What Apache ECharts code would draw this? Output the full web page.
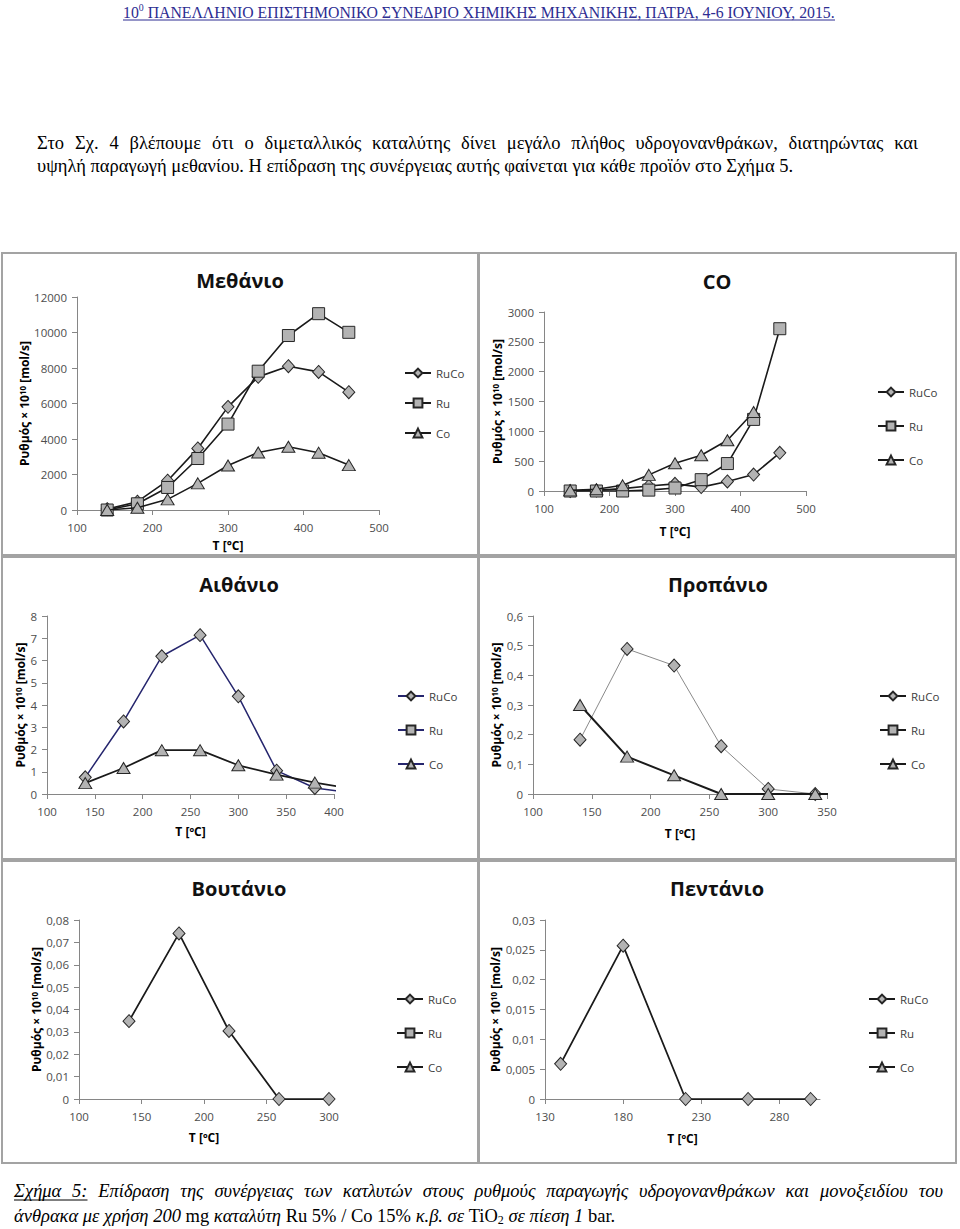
<!DOCTYPE html>
<html>
<head>
<meta charset="utf-8">
<script src="https://cdn.jsdelivr.net/npm/echarts@6/dist/echarts.min.js"></script>
<style>
html,body{margin:0;padding:0;background:#fff;}
#main{width:960px;height:1229px;}
</style>
</head>
<body>
<div id="main"></div>
<script>
// ================= DATA =================
const seriesNames = ['RuCo', 'Ru', 'Co'];
const chartTitles = ['Μεθάνιο', 'CO', 'Αιθάνιο', 'Προπάνιο', 'Βουτάνιο', 'Πεντάνιο'];
const xAxisNames = ['T [°C]', 'T [°C]', 'T [ºC]', 'T [ºC]', 'T [ºC]', 'T [ºC]'];

// Methane
const methaneT    = [140, 180, 220, 260, 300, 340, 380, 420, 460];
const methaneRuCo = [50, 470, 1650, 3470, 5810, 7500, 8100, 7780, 6640];
const methaneRu   = [0, 350, 1270, 2900, 4840, 7820, 9830, 11060, 10010];
const methaneCo   = [0, 130, 600, 1500, 2510, 3240, 3560, 3230, 2530];

// CO
const coT     = [140, 180, 220, 260, 300, 340, 380, 420, 460];
const coRuCo  = [0, 10, 40, 85, 120, 65, 160, 275, 640];
const coRu    = [0, 0, 0, 15, 50, 190, 460, 1200, 2720];
const coCoT   = [140, 180, 220, 260, 300, 340, 380, 420];
const coCo    = [10, 30, 95, 270, 465, 600, 850, 1325];

// Ethane
const ethaneT    = [140, 180, 220, 260, 300, 340, 380, 420];
const ethaneRuCo = [0.75, 3.26, 6.19, 7.14, 4.39, 1.05, 0.27, 0.05];
const ethaneCo   = [0.49, 1.17, 1.97, 1.97, 1.29, 0.87, 0.51, 0.23];

// Propane
const propaneT    = [140, 180, 220, 260, 300, 340];
const propaneRuCo = [0.183, 0.489, 0.433, 0.161, 0.017, 0];
const propaneCoT  = [140, 180, 220, 260, 300, 340, 380];
const propaneCo   = [0.30, 0.126, 0.063, 0, 0, 0, 0];

// Butane
const butaneT    = [140, 180, 220, 260, 300];
const butaneRuCo = [0.0348, 0.074, 0.0304, 0, 0];

// Pentane
const pentaneT    = [140, 180, 220, 260, 300];
const pentaneRuCo = [0.0059, 0.0257, 0, 0, 0];

// Axis ranges / tick steps
const xMins      = [100, 100, 100, 100, 100, 130];
const xMaxs      = [500, 500, 400, 350, 300, 306];
const xSteps     = [100, 100, 50, 50, 50, 50];
const yMaxs      = [12000, 3000, 8, 0.6, 0.08, 0.03];
const ySteps     = [2000, 500, 1, 0.1, 0.01, 0.005];

// Page texts
const headerText = ' ΠΑΝΕΛΛΗΝΙΟ ΕΠΙΣΤΗΜΟΝΙΚΟ ΣΥΝΕΔΡΙΟ ΧΗΜΙΚΗΣ ΜΗΧΑΝΙΚΗΣ, ΠΑΤΡΑ, 4-6 ΙΟΥΝΙΟΥ, 2015.';
const paraLine1 = 'Στο Σχ. 4 βλέπουμε ότι ο διμεταλλικός καταλύτης δίνει μεγάλο πλήθος υδρογονανθράκων, διατηρώντας και';
const paraLine2 = 'υψηλή παραγωγή μεθανίου. Η επίδραση της συνέργειας αυτής φαίνεται για κάθε προϊόν στο Σχήμα 5.';
const capLine1Label = 'Σχήμα 5:';
const capLine1Rest = 'Επίδραση της συνέργειας των κατλυτών στους ρυθμούς παραγωγής υδρογονανθράκων και μονοξειδίου του';

// ================= SERIES ASSEMBLY =================
function pairs(xs, ys) { return xs.map((x, i) => [x, ys[i]]); }
const chartSeriesData = [
  [pairs(methaneT, methaneRuCo), pairs(methaneT, methaneRu), pairs(methaneT, methaneCo)],
  [pairs(coT, coRuCo), pairs(coT, coRu), pairs(coCoT, coCo)],
  [pairs(ethaneT, ethaneRuCo), [], pairs(ethaneT, ethaneCo)],
  [pairs(propaneT, propaneRuCo), [], pairs(propaneCoT, propaneCo)],
  [pairs(butaneT, butaneRuCo), [], []],
  [pairs(pentaneT, pentaneRuCo), [], []]
];

// ================= LAYOUT & STYLE =================
const CF = "'Open Sans', 'Noto Sans', 'DejaVu Sans', sans-serif";
const SERIF = "'Liberation Serif', 'DejaVu Serif', serif";

const layouts = [
  {grid: {left: 77, top: 297, width: 302, height: 213}, tx: 240, ty: 280, lx: 404, ly: 366, lg: 16, yGap: 45, xGap: 29},
  {grid: {left: 544, top: 312, width: 262, height: 179}, tx: 717, ty: 281, lx: 877, ly: 385, lg: 20, yGap: 39, xGap: 34},
  {grid: {left: 47, top: 616, width: 287, height: 178}, tx: 239, ty: 584, lx: 397, ly: 689, lg: 20, yGap: 21, xGap: 31},
  {grid: {left: 533, top: 616, width: 294, height: 178}, tx: 718, ty: 584, lx: 879, ly: 689, lg: 20, yGap: 28, xGap: 33},
  {grid: {left: 79, top: 920, width: 250, height: 179}, tx: 239, ty: 888, lx: 396, ly: 992, lg: 20, yGap: 34, xGap: 32},
  {grid: {left: 545, top: 920, width: 275, height: 179}, tx: 717, ty: 888, lx: 868, ly: 992, lg: 20, yGap: 40, xGap: 33}
];

const panels = [
  {x: 2, y: 253, w: 476, h: 302}, {x: 479, y: 253, w: 477, h: 302},
  {x: 2, y: 557, w: 476, h: 302}, {x: 479, y: 557, w: 477, h: 302},
  {x: 2, y: 861, w: 476, h: 302}, {x: 479, y: 861, w: 477, h: 302}
];

const symbolOf = {RuCo: 'diamond', Ru: 'rect', Co: 'triangle'};
const symbolSizeOf = {RuCo: [12, 13], Ru: 12, Co: [13, 11]};
const lineStyles = [
  [{c: '#1a1a1a', w: 1.6}, {c: '#1a1a1a', w: 1.6}, {c: '#1a1a1a', w: 1.6}],
  [{c: '#1a1a1a', w: 1.6}, {c: '#1a1a1a', w: 1.6}, {c: '#1a1a1a', w: 1.6}],
  [{c: '#26266e', w: 1.5}, {c: '#1a1a1a', w: 1.6}, {c: '#1a1a1a', w: 1.75}],
  [{c: '#8a8a8a', w: 1}, {c: '#1a1a1a', w: 1.6}, {c: '#1a1a1a', w: 2}],
  [{c: '#1a1a1a', w: 1.75}, {c: '#1a1a1a', w: 1.6}, {c: '#1a1a1a', w: 1.6}],
  [{c: '#1a1a1a', w: 1.75}, {c: '#1a1a1a', w: 1.6}, {c: '#1a1a1a', w: 1.6}]
];

const fmt = v => String(parseFloat(Number(v).toPrecision(8))).replace('.', ',');

const grids = [], xAxes = [], yAxes = [], legends = [], series = [];
layouts.forEach((L, i) => {
  grids.push(Object.assign({containLabel: false}, L.grid));
  xAxes.push({
    type: 'value', gridIndex: i, min: xMins[i], max: xMaxs[i], interval: xSteps[i],
    name: xAxisNames[i], nameLocation: 'middle', nameGap: L.xGap,
    nameTextStyle: {fontFamily: CF, fontSize: 12, fontWeight: 'bold', color: '#000'},
    axisLine: {show: true, onZero: false, lineStyle: {color: '#868686', width: 1}},
    axisTick: {show: true, inside: false, length: 5, lineStyle: {color: '#868686'}},
    axisLabel: {fontFamily: CF, fontSize: 11.5, color: '#4d4d4d', margin: 11, showMaxLabel: i === 5 ? false : true, showMinLabel: true},
    splitLine: {show: false}
  });
  yAxes.push({
    type: 'value', gridIndex: i, min: 0, max: yMaxs[i], interval: ySteps[i],
    name: 'Ρυθμός × 10{s|10} [mol/s]', nameLocation: 'middle', nameGap: L.yGap,
    nameTextStyle: {fontFamily: CF, fontSize: 12, fontWeight: 'bold', color: '#000',
      rich: {s: {fontFamily: CF, fontSize: 8, fontWeight: 'bold', color: '#000', verticalAlign: 'top'}}},
    axisLine: {show: true, onZero: false, lineStyle: {color: '#868686', width: 1}},
    axisTick: {show: true, inside: false, length: 5, lineStyle: {color: '#868686'}},
    axisLabel: {fontFamily: CF, fontSize: 11.5, color: '#4d4d4d', margin: 10, formatter: fmt, showMaxLabel: true, showMinLabel: true},
    splitLine: {show: false}
  });
  legends.push({
    orient: 'vertical', left: L.lx, top: L.ly, itemGap: L.lg, itemWidth: 26, itemHeight: 11, padding: 0,
    selectedMode: false,
    data: seriesNames.map(n => n + '#' + i),
    formatter: n => n.split('#')[0],
    lineStyle: {color: i === 2 ? '#26266e' : '#1a1a1a'},
    textStyle: {fontFamily: CF, fontSize: 11.5, color: '#404040', lineHeight: 14}
  });
  seriesNames.forEach((n, k) => {
    const ls = lineStyles[i][k];
    series.push({
      type: 'line', name: n + '#' + i, xAxisIndex: i, yAxisIndex: i,
      data: chartSeriesData[i][k], clip: true,
      symbol: symbolOf[n], symbolSize: symbolSizeOf[n], showSymbol: true,
      lineStyle: {color: ls.c, width: ls.w},
      itemStyle: {color: '#b3b3b3', borderColor: '#262626', borderWidth: 1},
      emphasis: {disabled: true},
      animation: false, z: 2 + k
    });
  });
});

// ================= PAGE TEXT (graphic) =================
const ctx = document.createElement('canvas').getContext('2d');
function fstr(f) { return (f.style || 'normal') + ' ' + (f.weight || 'normal') + ' ' + f.size + 'px ' + f.family; }
function meas(t, f) { ctx.font = fstr(f); return ctx.measureText(t).width; }
function txt(t, x, y, f, fill, sx) {
  return {type: 'text', x: x, y: y, scaleX: sx || 1, silent: true, z: 10,
    style: {text: t, fontSize: f.size, fontFamily: f.family, fontStyle: f.style || 'normal', fontWeight: f.weight || 'normal',
      fill: fill || '#000', align: 'left', verticalAlign: 'middle', textAlign: 'left', textVerticalAlign: 'middle'}};
}
const els = [];

// panels
panels.forEach(p => els.push({type: 'rect', silent: true, z: 0, shape: {x: p.x, y: p.y, width: p.w, height: p.h},
  style: {fill: 'none', stroke: '#a3a3a3', lineWidth: 2}}));

// chart titles
layouts.forEach((L, i) => els.push({type: 'text', x: L.tx, y: L.ty, silent: true, z: 10,
  style: {text: chartTitles[i], fontSize: 20, fontFamily: CF, fontWeight: 'bold', fill: '#111',
    align: 'center', verticalAlign: 'middle', textAlign: 'center', textVerticalAlign: 'middle'}}));

// header (condensed to fit)
(function () {
  const H = {size: 16, family: SERIF};
  const Hs = {size: 10, family: SERIF};
  const col = '#2d2d92';
  const runs = [{t: '10', f: H, dy: 0}, {t: '0', f: Hs, dy: -5}, {t: headerText, f: H, dy: 0}];
  const x0 = 123, x1 = 835, y = 12;
  const total = runs.reduce((a, r) => a + meas(r.t, r.f), 0);
  const s = (x1 - x0) / total;
  let x = x0;
  runs.forEach(r => { els.push(txt(r.t, x, y + r.dy, r.f, col, s)); x += meas(r.t, r.f) * s; });
  els.push({type: 'line', silent: true, z: 10, shape: {x1: x0, y1: y + 8, x2: x1, y2: y + 8}, style: {stroke: col, lineWidth: 1}});
})();

function placeWords(words, x0, y, x1, justify) {
  const ws = words.map(wd => wd.reduce((a, s) => a + meas(s.t, s.f), 0));
  const sum = ws.reduce((a, b) => a + b, 0);
  const gap = justify ? (x1 - x0 - sum) / (words.length - 1) : meas(' ', words[0][0].f);
  let x = x0, ulS = null, ulE = null;
  words.forEach(wd => {
    wd.forEach(s => {
      const sw = meas(s.t, s.f);
      els.push(txt(s.t, x, y + (s.dy || 0), s.f, '#000'));
      if (s.ul) { if (ulS === null) ulS = x; ulE = x + sw; }
      x += sw;
    });
    x += gap;
  });
  if (ulS !== null) els.push({type: 'line', silent: true, z: 10, shape: {x1: ulS, y1: y + 9, x2: ulE, y2: y + 9}, style: {stroke: '#000', lineWidth: 1}});
}
function W(str, f, extra) { return str.split(' ').map(t => [Object.assign({t: t, f: f}, extra || {})]); }

const P = {size: 18.5, family: SERIF};
const IT = {size: 18.5, family: SERIF, style: 'italic'};
const SUB = {size: 12, family: SERIF};

placeWords(W(paraLine1, P), 37, 143, 918, true);
placeWords(W(paraLine2, P), 37, 166, 0, false);
placeWords(W(capLine1Label, IT, {ul: true}).concat(W(capLine1Rest, IT)), 14, 1191, 943, true);
placeWords([
  [{t: 'άνθρακα', f: IT}], [{t: 'με', f: IT}], [{t: 'χρήση', f: IT}], [{t: '200', f: IT}], [{t: 'mg', f: P}],
  [{t: 'καταλύτη', f: IT}], [{t: 'Ru', f: P}], [{t: '5%', f: P}], [{t: '/', f: P}], [{t: 'Co', f: P}], [{t: '15%', f: P}],
  [{t: 'κ.β.', f: IT}], [{t: 'σε', f: IT}], [{t: 'TiO', f: P}, {t: '2', f: SUB, dy: 4}], [{t: 'σε', f: IT}],
  [{t: 'πίεση', f: IT}], [{t: '1', f: IT}], [{t: 'bar.', f: P}]
], 14, 1216, 0, false);

const chart = echarts.init(document.getElementById('main'), null, {renderer: 'svg', width: 960, height: 1229});
chart.setOption({
  animation: false,
  backgroundColor: '#ffffff',
  grid: grids, xAxis: xAxes, yAxis: yAxes, legend: legends, series: series,
  graphic: {elements: els}
});
</script>
</body>
</html>
